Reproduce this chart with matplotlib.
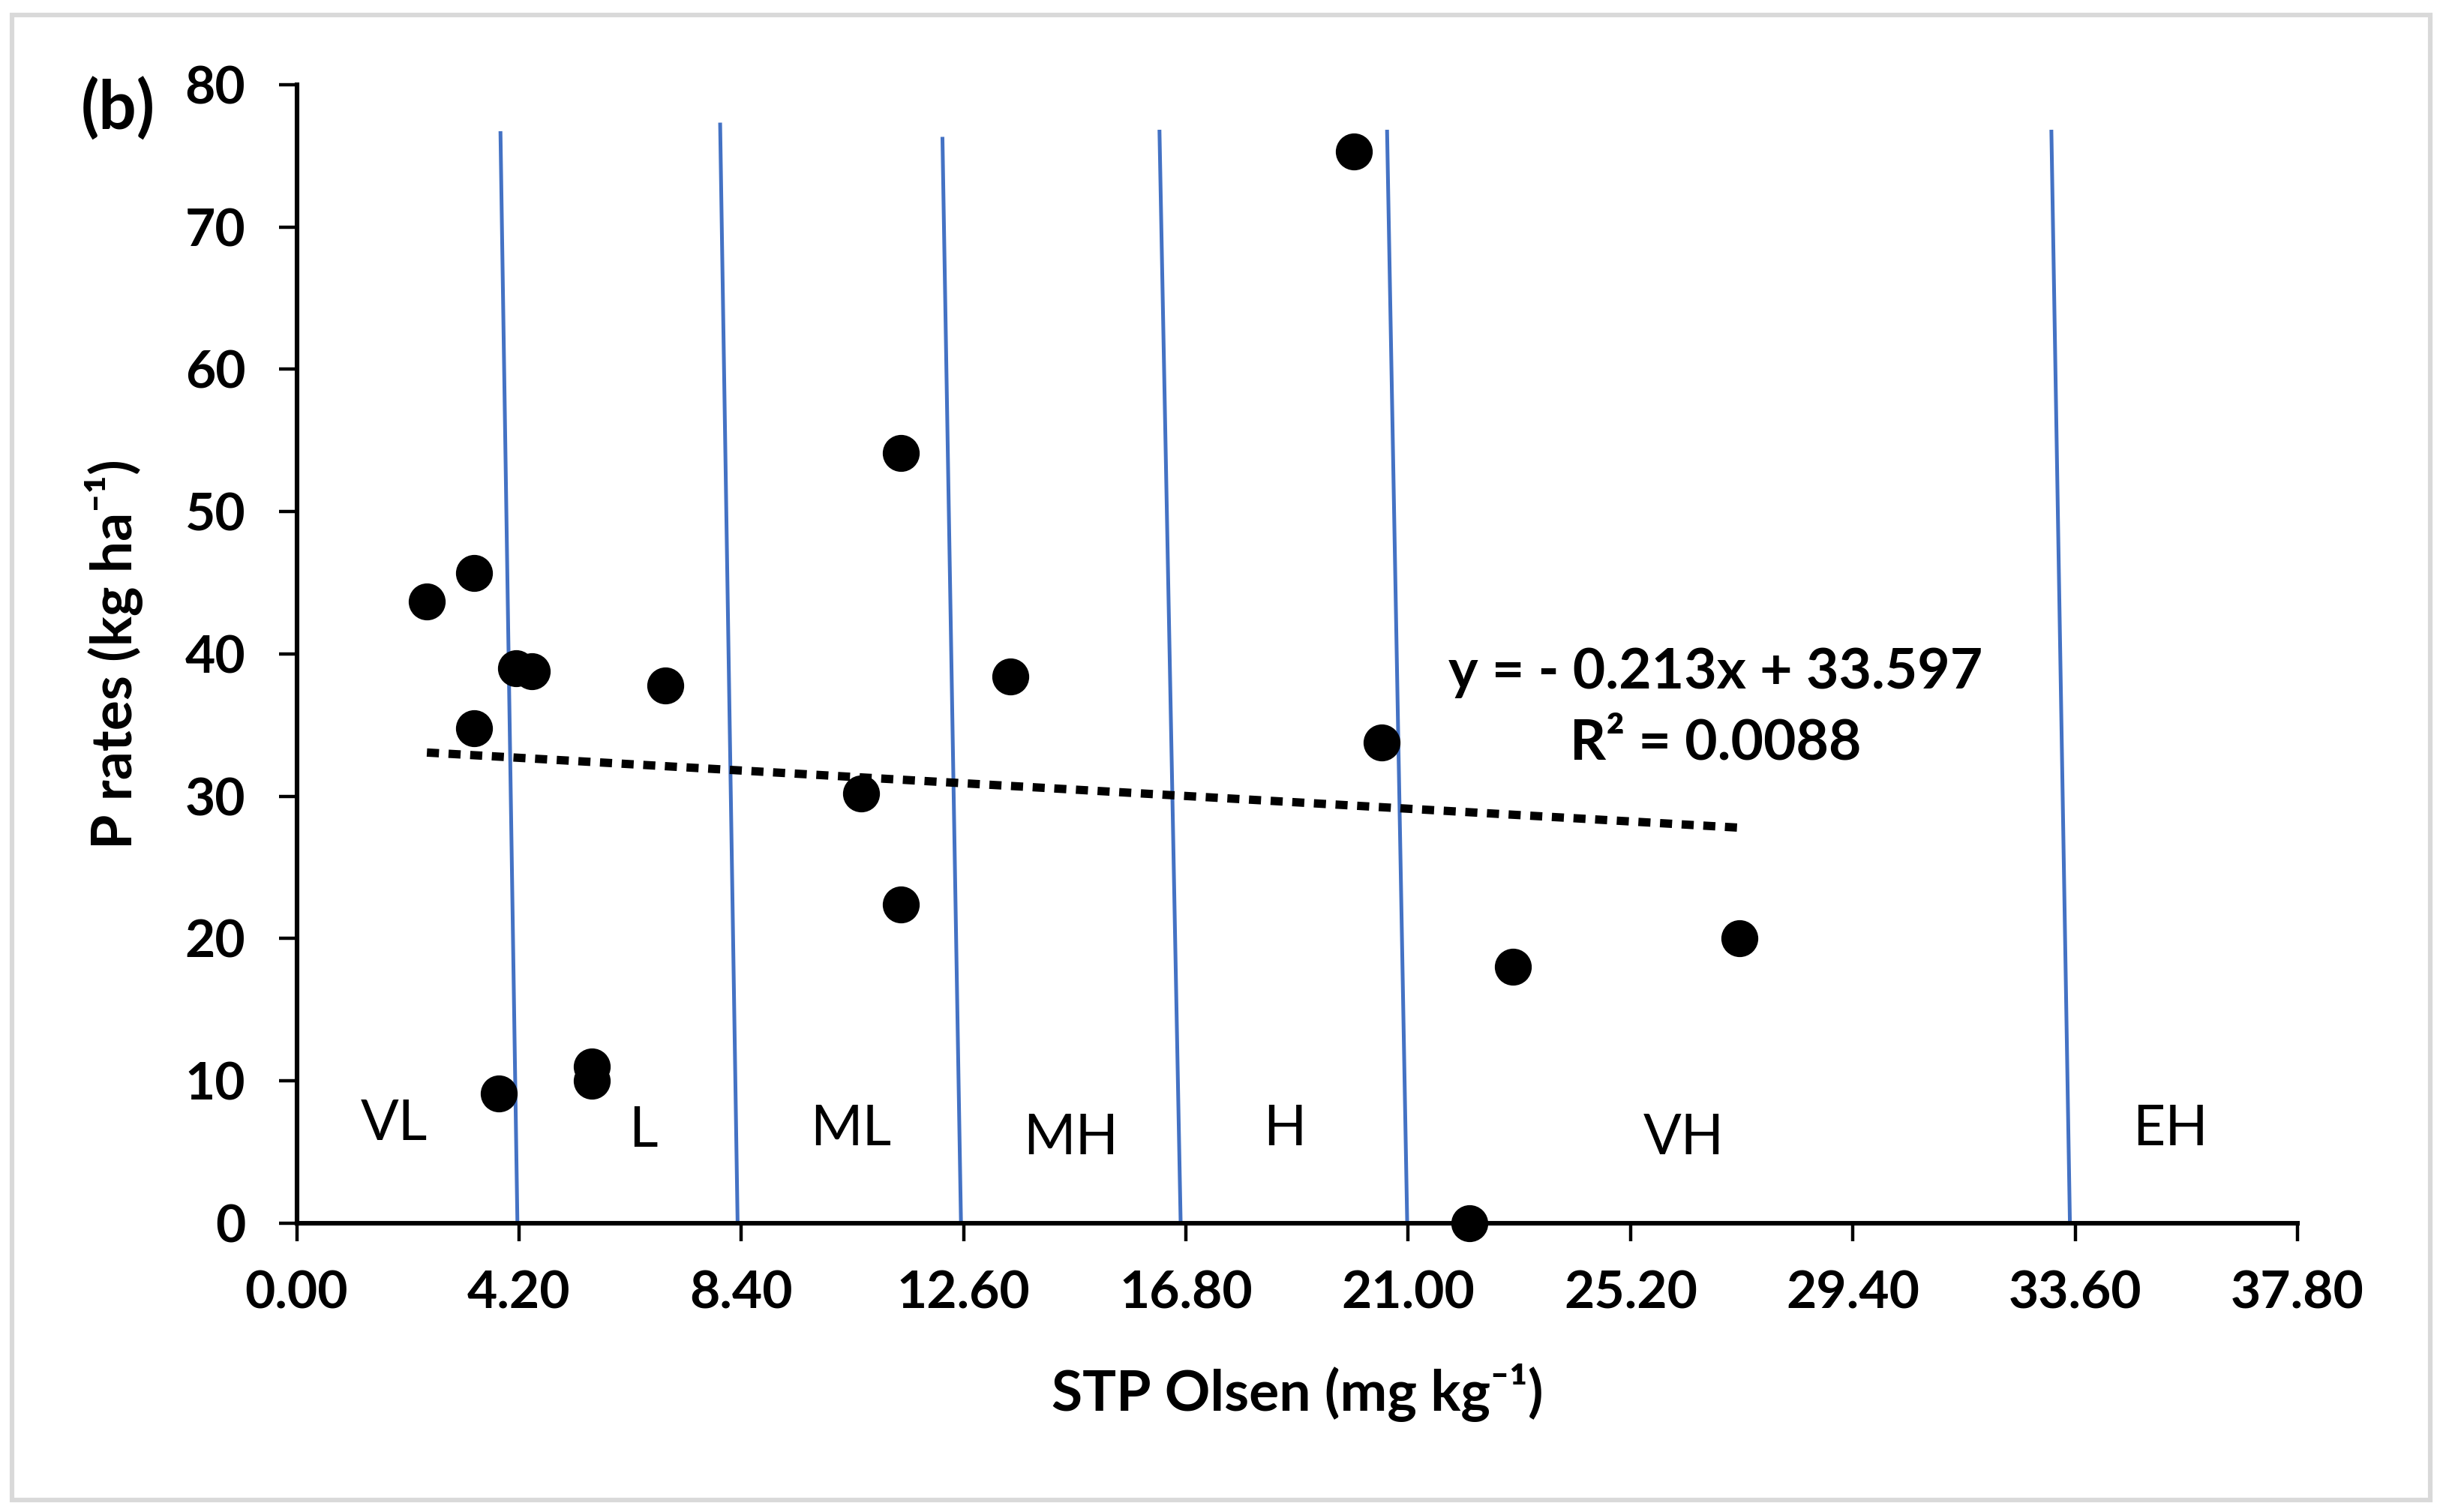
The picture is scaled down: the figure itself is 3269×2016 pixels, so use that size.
import numpy as np
import matplotlib
matplotlib.use("Agg")
import matplotlib.pyplot as plt
from matplotlib.patches import Rectangle

plt.rcParams['font.family'] = ['Lato', 'DejaVu Sans']

# data
stp_olsen = [2.46, 3.35, 3.35, 4.15, 4.44, 3.82, 5.57, 5.57, 6.96, 10.66,
             11.41, 11.41, 13.48, 19.97, 20.50, 22.16, 22.98, 27.25]
p_rates = [43.7, 45.7, 34.8, 39.0, 38.8, 9.1, 11.0, 10.0, 37.8, 30.2,
           54.1, 22.4, 38.4, 75.3, 33.8, 0.0, 18.0, 20.0]

# linear trend line printed on chart
slope = -0.213
intercept = 33.597
r_squared = 0.0088

# hand drawn class boundaries (slightly slanted)
bound_top_x = [3.85, 8.00, 12.20, 16.30, 20.60, 33.15]
bound_bot_x = [4.17, 8.33, 12.55, 16.70, 20.98, 33.50]
bound_top_y = [76.6, 77.2, 76.2, 76.7, 76.7, 76.7]

zone_names = ['VL', 'L', 'ML', 'MH', 'H', 'VH', 'EH']
zone_x = [1.84, 6.55, 10.46, 14.63, 18.66, 26.2, 35.4]
zone_y = [7.0, 6.5, 6.6, 6.0, 6.6, 6.0, 6.6]

x_ticks = [0.0, 4.2, 8.4, 12.6, 16.8, 21.0, 25.2, 29.4, 33.6, 37.8]
y_ticks = [0, 10, 20, 30, 40, 50, 60, 70, 80]

fig = plt.figure(figsize=(16.345, 10.08), dpi=200)
ax = fig.add_axes([0.121, 0.191, 0.816, 0.753])

# boundaries
for xt, xb, yt in zip(bound_top_x, bound_bot_x, bound_top_y):
    ax.plot([xt, xb], [yt, 0], color='#4472C4', lw=1.8, zorder=1)

# trend line
tx = np.array([min(stp_olsen), max(stp_olsen)])
ax.plot(tx, slope * tx + intercept, color='black', lw=4,
        linestyle=(0, (1.45, 1.15)), dash_capstyle='butt', zorder=2)

ax.scatter(stp_olsen, p_rates, s=280, color='black', zorder=3, clip_on=False)

for name, zx, zy in zip(zone_names, zone_x, zone_y):
    ax.text(zx, zy, name, fontsize=27, ha='center', va='center')

ax.text(26.8, 36.2, 'y = - %.3fx + %.3f\nR² = %.4f' % (-slope, intercept, r_squared),
        fontsize=27, fontweight='bold', ha='center', va='center', linespacing=1.45)

ax.set_xlim(0, 37.8)
ax.set_ylim(0, 80)
ax.set_xticks(x_ticks)
ax.set_xticklabels(['%.2f' % v for v in x_ticks])
ax.set_yticks(y_ticks)
ax.spines['top'].set_visible(False)
ax.spines['right'].set_visible(False)
ax.spines['left'].set_linewidth(2.2)
ax.spines['bottom'].set_linewidth(2.2)
ax.tick_params(axis='both', direction='out', length=8.5, width=1.6,
               labelsize=25)
ax.tick_params(axis='y', pad=16)
ax.tick_params(axis='x', pad=14)
for lab in ax.get_xticklabels() + ax.get_yticklabels():
    lab.set_fontweight('bold')

ax.set_xlabel('STP Olsen (mg kg⁻¹)', fontsize=27, fontweight='bold', labelpad=22)
ax.set_ylabel('P rates (kg ha⁻¹)', fontsize=27, fontweight='bold', labelpad=20)

fig.text(0.048, 0.928, '(b)', fontsize=32, fontweight='bold', ha='center', va='center')

fig.patches.append(Rectangle((0.005, 0.008), 0.986, 0.982, transform=fig.transFigure,
                             fill=False, edgecolor='#D9D9D9', lw=2.2))

fig.savefig('out.png', dpi=200)
